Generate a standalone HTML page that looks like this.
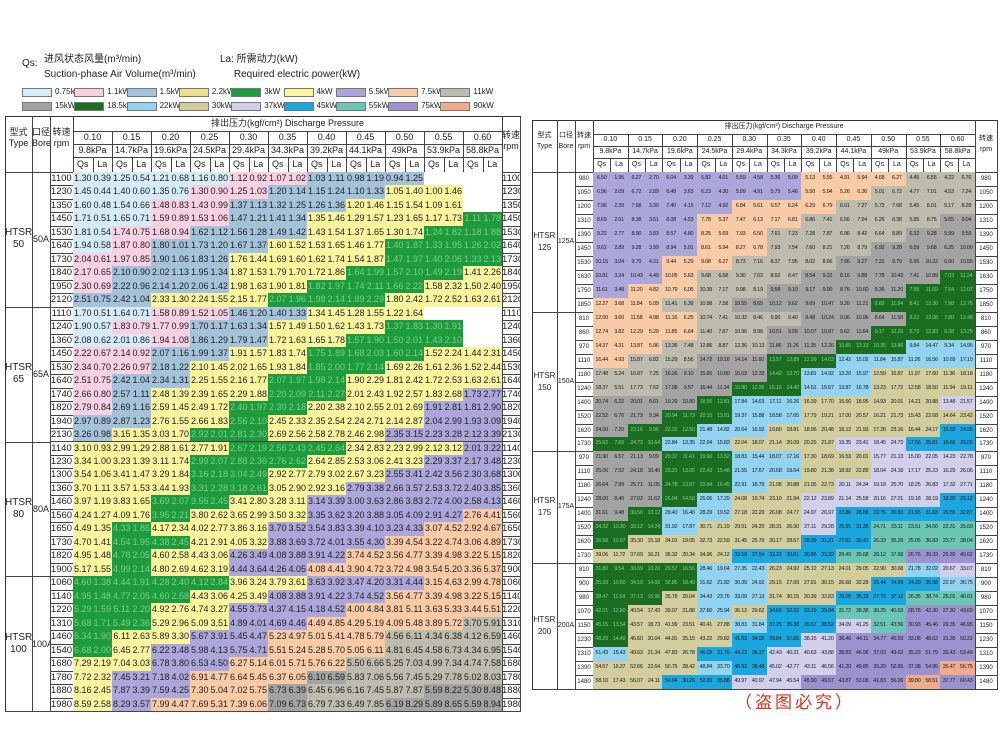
<!DOCTYPE html>
<html><head><meta charset="utf-8">
<style>
body{margin:0;width:1000px;height:750px;background:#fff;position:relative;overflow:hidden;font-family:"Liberation Sans","Noto Sans CJK SC",sans-serif;color:#222}
.c{position:absolute;box-sizing:border-box;border-right:1px solid #444;border-bottom:1px solid #444;text-align:center;white-space:nowrap;overflow:hidden}
.t{position:absolute;white-space:nowrap}
.lg{position:absolute;width:30px;height:9px;border:1px solid #777;box-sizing:border-box}
.box{position:absolute;border:1px solid #333;box-sizing:border-box}
</style></head><body>
<div class="t" style="left:22px;top:58px;font-size:10px">Qs:</div>
<div class="t" style="left:44px;top:52px;font-size:10px;line-height:15px">进风状态风量(m³/min)<br>Suction-phase Air Volume(m³/min)</div>
<div class="t" style="left:220px;top:52px;font-size:10px;line-height:15px">La: 所需动力(kW)<br>&nbsp;&nbsp;&nbsp;&nbsp;&nbsp;Required electric power(kW)</div>
<div id="legend"></div>
<div id="left"></div>
<div id="right"></div>
<div class="t" style="left:735px;top:688px;font-size:17px;color:#e0301e;letter-spacing:3px">（盗图必究）</div>
<script>
const COL={a:'#d6ebf8',b:'#f7d0e1',c:'#a4c2d9',d:'#ede08a',g:'#1e9b3c',y:'#fbf49e',e:'#aca7da',p:'#f8cba6',h:'#bdbcae',H:'#a3a3a3',G:'#1c6d22',s:'#92d3f2',k:'#d3cd9d',l:'#d2cfec',B:'#1aa7df',T:'#6cc6b5',P:'#9a93cf',R:'#f0ab8c',w:'#ffffff'};
const legendKeys=['a','b','c','d','g','y','e','p','h','H','G','s','k','l','B','T','P','R'];
const legendLabels=['0.75kW','1.1kW','1.5kW','2.2kW','3kW','4kW','5.5kW','7.5kW','11kW','15kW','18.5kW','22kW','30kW','37kW','45kW','55kW','75kW','90kW'];
const pressures=['0.10','0.15','0.20','0.25','0.30','0.35','0.40','0.45','0.50','0.55','0.60'];
const kpa=['9.8kPa','14.7kPa','19.6kPa','24.5kPa','29.4kPa','34.3kPa','39.2kPa','44.1kPa','49kPa','53.9kPa','58.8kPa'];
const leftGroups=[
 {type:'HTSR\n50',bore:'50A',q0:1.3,rpms:[1100,1230,1350,1450,1530,1640,1730,1840,1950,2120],
  map:['aaaabbcccww','aaabbcccyyw','aabbcccyyyw','aabbccyyyyg','abbcccyyygg','abcccyyyggg','bbccyyyyggg','bcccyyygggy','bcccyygggyy','ccyyygggyyy']},
 {type:'HTSR\n65',bore:'65A',q0:1.7,rpms:[1110,1240,1360,1450,1530,1640,1740,1820,1940,2130],
  map:['aabbccyyyww','abbccyyyggw','aabccyygggw','bbccyygggyy','bbcyyyggyyy','bccyyggyyyy','bcyyyggyyye','bcyyggyyyee','ccyygyyyyee','cyyggyyyeee']},
 {type:'HTSR\n80',bore:'80A',q0:3.1,rpms:[1140,1230,1300,1360,1460,1560,1650,1730,1820,1900],
  map:['yyyygggyyye','yyygggyyyee','yyyggyyyeee','yyyggyyeeee','yyggyyeeeee','yygyyyeeeep','ygyyyeeeepp','yggyyeeeppp','ygyyeeepppp','ygyyeeppppp']},
 {type:'HTSR\n100',bore:'100A',q0:4.6,rpms:[1060,1140,1220,1310,1460,1540,1680,1780,1880,1980],
  map:['ggggyyeeepp','gggyyeeeppp','ggyyeeepppp','ggyyeepppph','gyyeeppphhh','gyeeeppphhh','yyeeppphhhh','yeepppHhhhh','yeeppHhhhHH','yepppHhhHHH']}];
const rightGroups=[
 {type:'HTSR\n125',bore:'125A',q0:6.5,rpms:[980,1050,1200,1310,1390,1450,1530,1630,1750,1850],
  map:['eeeeeeppphh','eeeeeepphhh','eeeeppphhhh','eeeppphhhhH','eeepphhhhHH','eeepphhhHHH','eepphhhHHHH','eephhhHHHHG','epphhHHHHGG','pphhHHHHGGG']},
 {type:'HTSR\n150',bore:'150A',q0:12,rpms:[810,860,970,1110,1180,1240,1400,1520,1620,1730],
  map:['ppphhhHHHGG','ppphhHHHGGG','pphhhHHGGss','phhHHGGssss','hhHHHGsskkk','hhHHGGsskkk','HHHGsskkkkl','HHGGsskkkkk','HGGsskkkkkB','GGsskkkllBB']},
 {type:'HTSR\n175',bore:'175A',q0:21.9,rpms:[970,1110,1180,1240,1400,1520,1620,1730],
  map:['HHGGsskklll','HHGGsskklll','HHGGskkllll','HHGskkllllB','HGsskklBBBB','GGskkklBTTT','GkkkkkBBTTT','kkkkBBBTTPP']},
 {type:'HTSR\n200',bore:'200A',q0:31.8,rpms:[810,900,980,1070,1150,1230,1310,1390,1480],
  map:['GGGsskkkksl','GGGsskkkBBs','GGksskkBBTT','GkkskBBTTPP','GkkksBBlTPP','GkkkBBlPPPP','skkBBllPPPP','kkksBllPPPR','kkBBllPPPRP']}];

const lgEl=document.getElementById('legend');
legendKeys.forEach((k,i)=>{
  const r=Math.floor(i/9),j=i%9;
  const bx=document.createElement('div');bx.className='lg';
  
  
  bx.style.left=(22+j*52.3)+'px';bx.style.top=(88+r*14)+'px';bx.style.background=COL[k];
  lgEl.appendChild(bx);
  const tx=document.createElement('div');tx.className='t';
  
  
  tx.style.left=(55+j*52.3)+'px';tx.style.top=(87+r*14)+'px';tx.style.fontSize='8px';tx.textContent=legendLabels[i];
  lgEl.appendChild(tx);
});

function cell(root,x,y,w,h,txt,bg,fs,name){
  const d=document.createElement('div');d.className='c';
  
  
  d.style.left=x+'px';d.style.top=y+'px';d.style.width=(w+1)+'px';d.style.height=(h+1)+'px';
  d.style.lineHeight=h+'px';d.style.fontSize=fs+'px';if(bg)d.style.background=bg;
  d.textContent=txt;root.appendChild(d);return d;
}
function build(rootId,groups,L,T,B,R,wType,wBore,wRpm,wEnd,hdrH,fs,vfs){
  const root=document.getElementById(rootId);
  const nRows=groups.reduce((s,g)=>s+g.rpms.length,0);
  const rh=(B-T-hdrH)/nRows;
  const x1=L+wType,x2=x1+wBore,x3=x2+wRpm,x4=R-wEnd;
  const cw=(x4-x3)/22;
  const hr=[T,T+hdrH*0.26,T+hdrH*0.5,T+hdrH*0.74,T+hdrH];
  const ob=document.createElement('div');ob.className='box';
  
  
  ob.style.left=L+'px';ob.style.top=T+'px';ob.style.width=(R-L+1)+'px';ob.style.height=(B-T+1)+'px';root.appendChild(ob);
  cell(root,L,T,wType,hdrH,'',null,fs,'type-header').innerHTML='<div style="line-height:11px;padding-top:'+(hdrH*0.2)+'px">型式<br>Type</div>';
  cell(root,x1,T,wBore,hdrH,'',null,fs,'bore-header').innerHTML='<div style="line-height:11px;padding-top:'+(hdrH*0.2)+'px">口径<br>Bore</div>';
  cell(root,x2,T,wRpm,hdrH,'',null,fs,'rpm-header').innerHTML='<div style="line-height:11px;padding-top:'+(hdrH*0.2)+'px">转速<br>rpm</div>';
  cell(root,x4,T,wEnd,hdrH,'',null,fs,'rpm-header-right').innerHTML='<div style="line-height:11px;padding-top:'+(hdrH*0.25)+'px">转速<br>rpm</div>';
  cell(root,x3,hr[0],x4-x3,hr[1]-hr[0],'排出压力(kgf/cm²)  Discharge Pressure',null,fs,'discharge-pressure-header');
  pressures.forEach((p,i)=>{
    cell(root,x3+i*2*cw,hr[1],2*cw,hr[2]-hr[1],p,null,fs,'pressure-kgf');
    cell(root,x3+i*2*cw,hr[2],2*cw,hr[3]-hr[2],kpa[i],null,fs,'pressure-kpa');
    cell(root,x3+i*2*cw,hr[3],cw,hr[4]-hr[3],'Qs',null,fs,'qs-header');
    cell(root,x3+(i*2+1)*cw,hr[3],cw,hr[4]-hr[3],'La',null,fs,'la-header');
  });
  let y=T+hdrH;
  groups.forEach(g=>{
    const gh=g.rpms.length*rh;
    cell(root,L,y,wType,gh,'',null,fs+1,'model-type').innerHTML='<div style="position:absolute;top:'+(gh/2-12)+'px;width:100%;line-height:12px">'+g.type.replace('\n','<br>')+'</div>';
    cell(root,x1,y,wBore,gh,'',null,fs,'bore-size').innerHTML='<div style="position:absolute;top:'+(gh/2-6)+'px;width:100%;line-height:12px">'+g.bore+'</div>';
    g.rpms.forEach((rpm,ri)=>{
      const ry=y+ri*rh;
      cell(root,x2,ry,wRpm,rh,String(rpm),null,vfs+0.5,'rpm-value');
      cell(root,x4,ry,wEnd,rh,String(rpm),null,vfs+0.5,'rpm-value-right');
      for(let j=0;j<11;j++){
        const k=g.map[ri][j]||'w';
        const dark=(k==='g'||k==='G');
        let qs='',la='';
        if(k!=='w'){
          const q=g.q0*(rpm/g.rpms[0])*(1-0.035*j);
          qs=q.toFixed(2);la=(q*(0.3+0.13*j)).toFixed(2);
        }
        const c1=cell(root,x3+j*2*cw,ry,cw,rh,qs,COL[k],vfs,'qs-value');
        const c2=cell(root,x3+(j*2+1)*cw,ry,cw,rh,la,COL[k],vfs,'la-value');
        if(vfs<8){c1.style.letterSpacing='-0.3px';c2.style.letterSpacing='-0.3px';}
        if(dark){c1.style.color='#7ccf8a';c2.style.color='#7ccf8a';}
      }
    });
    y+=gh;
  });
}
build('left',leftGroups,5,116,711,520,27,18,23,18,56,9,9);
build('right',rightGroups,532,120,689,997,25,18,18,22,52,7,5.6);
</script>
</body></html>
